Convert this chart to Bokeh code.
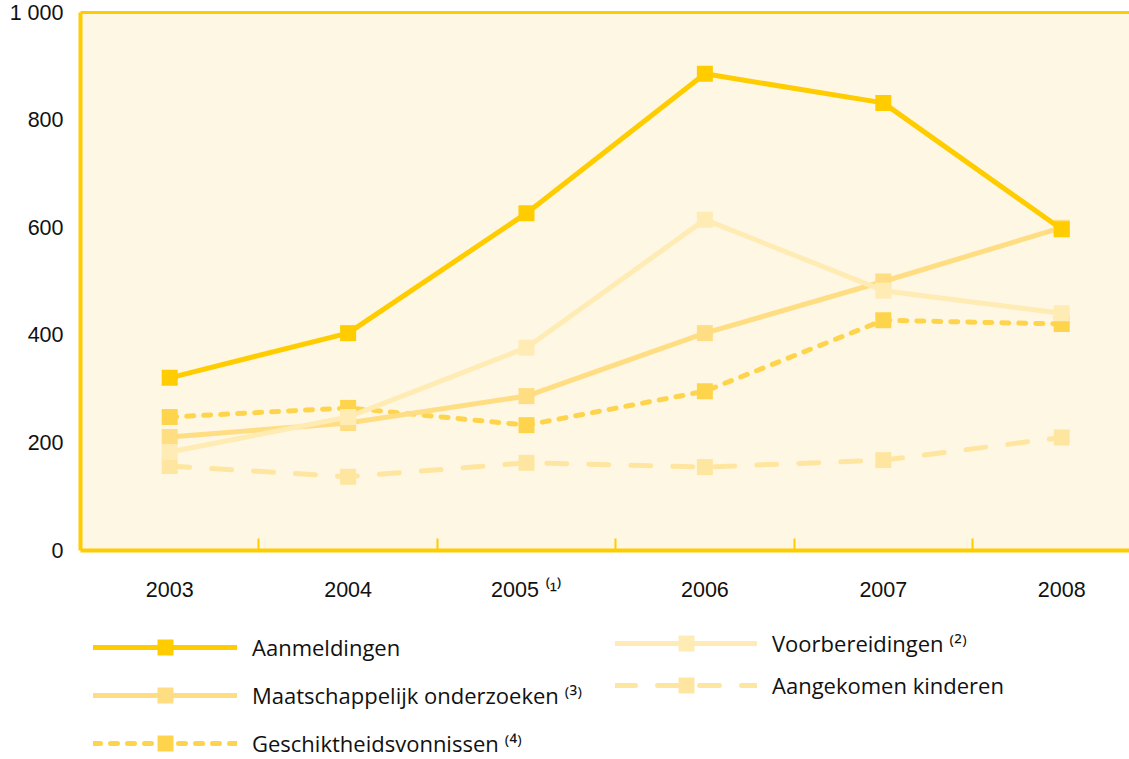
from bokeh.plotting import figure
from bokeh.layouts import column
from bokeh.models import Range1d, FixedTicker, LinearAxis, Legend, LegendItem
from bokeh.embed import file_html
from bokeh.resources import INLINE

years = [2003, 2004, 2005, 2006, 2007, 2008]
year_labels = {2005: "2005 \u207d\u00b9\u207e"}
aanmeldingen = [321, 404, 627, 886, 832, 597]
voorbereidingen = [183, 248, 377, 615, 483, 441]
maatschappelijk = [211, 237, 287, 404, 500, 600]
geschiktheid = [248, 265, 233, 296, 428, 421]
aangekomen = [157, 137, 163, 155, 168, 210]
y_ticks = [0, 200, 400, 600, 800, 1000]
y_labels = {1000: "1 000"}

names = {
    "aan": "Aanmeldingen",
    "maat": "Maatschappelijk onderzoeken \u207d\u00b3\u207e",
    "ges": "Geschiktheidsvonnissen \u207d\u2074\u207e",
    "voor": "Voorbereidingen \u207d\u00b2\u207e",
    "kind": "Aangekomen kinderen",
}

YEL = "#FFCC00"
C_GES = "#FFD44D"
C_MAAT = "#FFDD82"
C_VOOR = "#FFEBB4"
C_KIND = "#FFE6A0"
BG = "#FEF7E4"
TXT = "#111111"

p = figure(width=1129, height=605, output_backend="svg", toolbar_location=None,
           x_range=Range1d(2002.5, 2008.38), y_range=Range1d(0, 1000),
           x_axis_type=None, y_axis_type=None,
           min_border_left=80, min_border_right=0, min_border_top=12, min_border_bottom=55)
p.background_fill_color = BG
p.border_fill_color = "white"
p.outline_line_color = None

xa = LinearAxis(ticker=FixedTicker(ticks=years, minor_ticks=[2003.5, 2004.5, 2005.5, 2006.5, 2007.5]))
xa.major_label_overrides = year_labels
xa.axis_line_color = YEL
xa.axis_line_width = 4
xa.major_tick_line_color = None
xa.minor_tick_line_color = YEL
xa.minor_tick_line_width = 2
xa.minor_tick_in = 12
xa.minor_tick_out = 0
xa.major_label_text_font = "Liberation Sans"
xa.major_label_text_font_size = "21.5px"
xa.major_label_text_color = TXT
xa.major_label_standoff = 21
p.add_layout(xa, "below")

ya = LinearAxis(ticker=FixedTicker(ticks=y_ticks))
ya.major_label_overrides = y_labels
ya.axis_line_color = YEL
ya.axis_line_width = 4
ya.major_tick_line_color = None
ya.minor_tick_line_color = None
ya.major_label_text_font = "Liberation Sans"
ya.major_label_text_font_size = "21.5px"
ya.major_label_text_color = TXT
ya.major_label_standoff = 11
p.add_layout(ya, "left")

ta = LinearAxis(ticker=FixedTicker(ticks=[]))
ta.axis_line_color = YEL
ta.axis_line_width = 3
ta.major_tick_line_color = None
ta.minor_tick_line_color = None
ta.major_label_text_font_size = "0px"
p.add_layout(ta, "above")

p.xgrid.visible = False
p.ygrid.ticker = FixedTicker(ticks=y_ticks)
p.ygrid.grid_line_color = "white"
p.ygrid.grid_line_width = 2

styles = {
    "kind": (aangekomen, C_KIND, "20 22"),
    "ges": (geschiktheid, C_GES, "7 10"),
    "maat": (maatschappelijk, C_MAAT, "solid"),
    "voor": (voorbereidingen, C_VOOR, "solid"),
    "aan": (aanmeldingen, YEL, "solid"),
}

def series(fig, vals, color, dash, visible=True):
    l = fig.line(years, vals, line_color=color, line_width=5, line_dash=dash,
                 line_cap="round", line_join="round", visible=visible)
    s = fig.scatter(years, vals, marker="square", size=16, fill_color=color,
                    line_color=None, visible=visible)
    return [l, s]

for k in ["kind", "ges", "maat", "voor", "aan"]:
    series(p, *styles[k])

# legend panel below the chart
p2 = figure(width=1129, height=154, output_backend="svg", toolbar_location=None,
            x_range=Range1d(0, 1), y_range=Range1d(0, 1),
            x_axis_type=None, y_axis_type=None,
            min_border_left=0, min_border_right=0, min_border_top=0, min_border_bottom=0)
p2.outline_line_color = None
p2.xgrid.visible = False
p2.ygrid.visible = False
p2.background_fill_color = "white"

leg_r = {k: series(p2, *styles[k], visible=False) for k in ["kind", "ges", "maat", "voor", "aan"]}

def make_legend(keys, loc, spacing, gw):
    lg = Legend(items=[LegendItem(label=names[k], renderers=leg_r[k]) for k in keys],
                location=loc, orientation="vertical")
    lg.glyph_width = gw
    lg.glyph_height = 40
    lg.label_height = 40
    lg.label_standoff = 15
    lg.spacing = spacing
    lg.padding = 0
    lg.margin = 0
    lg.border_line_color = None
    lg.background_fill_alpha = 0
    lg.inactive_fill_alpha = 0
    lg.label_text_font = "Open Sans"
    lg.label_text_font_size = "22px"
    lg.label_text_color = TXT
    return lg

p2.add_layout(make_legend(["aan", "maat", "ges"], (13, -4), 8, 144), "center")
p2.add_layout(make_legend(["voor", "kind"], (535, 54), 2, 142), "center")

open("out.html", "w").write(file_html(column(p, p2, spacing=0), INLINE))
